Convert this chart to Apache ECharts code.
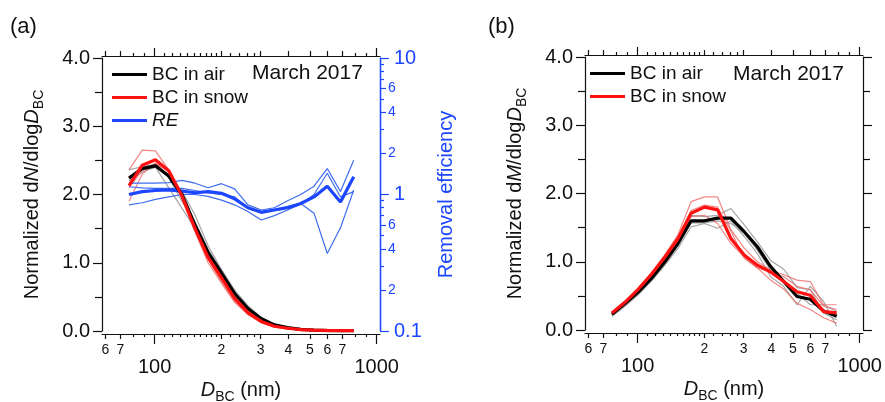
<!DOCTYPE html>
<html><head><meta charset="utf-8">
<script src="https://cdn.jsdelivr.net/npm/echarts@6/dist/echarts.min.js"></script>
<style>html,body{margin:0;padding:0;background:#fff}#c{width:885px;height:402px}</style>
</head><body><div id="c"></div>
<script>
// ---------------- data ----------------
const diameters = [76.6, 87.9, 100.8, 115.6, 132.6, 152, 174, 200, 229, 263, 302, 346, 397, 455, 522, 599, 687, 788];

// (a) number size distributions
const numAirMean  = [2.24, 2.38, 2.42, 2.27, 2.0, 1.55, 1.15, 0.85, 0.55, 0.33, 0.18, 0.09, 0.05, 0.025, 0.012, 0.006, 0.003, 0.002];
const numSnowMean = [2.13, 2.43, 2.51, 2.35, 1.98, 1.5, 1.08, 0.78, 0.48, 0.27, 0.14, 0.07, 0.04, 0.02, 0.012, 0.008, 0.006, 0.005];
const numAir1  = [2.36, 2.41, 2.41, 2.30, 2.05, 1.7, 1.25, 0.9, 0.6, 0.37, 0.2, 0.1, 0.05, 0.025, 0.012, 0.006, 0.003, 0.002];
const numAir2  = [2.20, 2.33, 2.4, 2.1, 1.8, 1.5, 1.15, 0.85, 0.55, 0.34, 0.19, 0.09, 0.05, 0.02, 0.01, 0.005, 0.003, 0.002];
const numAir3  = [2.25, 2.4, 2.45, 2.25, 1.9, 1.6, 1.2, 0.88, 0.57, 0.35, 0.18, 0.09, 0.045, 0.02, 0.01, 0.005, 0.003, 0.002];
const numSnow1 = [2.36, 2.65, 2.64, 2.36, 2.0, 1.5, 1.05, 0.72, 0.44, 0.25, 0.13, 0.06, 0.03, 0.015, 0.01, 0.007, 0.005, 0.005];
const numSnow2 = [1.9, 2.3, 2.46, 2.33, 1.98, 1.55, 1.12, 0.8, 0.5, 0.28, 0.15, 0.075, 0.04, 0.02, 0.012, 0.008, 0.006, 0.005];
const numSnow3 = [2.1, 2.35, 2.45, 2.35, 1.95, 1.45, 1.0, 0.7, 0.42, 0.24, 0.12, 0.06, 0.03, 0.015, 0.01, 0.007, 0.005, 0.005];

// (a) removal efficiency
const reMean = [1.0, 1.05, 1.07, 1.08, 1.06, 1.03, 1.05, 1.02, 0.93, 0.80, 0.74, 0.77, 0.80, 0.86, 0.96, 1.15, 0.88, 1.35];
const re1    = [1.21, 1.21, 1.21, 1.22, 1.27, 1.21, 1.12, 1.2, 1.1, 0.84, 0.77, 0.8, 0.9, 1.0, 1.15, 1.55, 1.05, 1.78];
const re2    = [1.14, 1.12, 1.11, 1.11, 1.11, 1.07, 1.03, 1.0, 0.96, 0.8, 0.75, 0.78, 0.82, 0.86, 0.73, 0.37, 0.57, 1.08];
const re3    = [0.84, 0.87, 0.92, 0.96, 1.0, 1.0, 0.97, 0.91, 0.84, 0.75, 0.65, 0.7, 0.77, 0.85, 1.0, 1.43, 0.96, 1.05];

// (b) mass size distributions
const massAirMean  = [0.23, 0.39, 0.56, 0.76, 1.0, 1.27, 1.6, 1.6, 1.64, 1.64, 1.44, 1.22, 0.93, 0.71, 0.49, 0.45, 0.28, 0.2];
const massSnowMean = [0.25, 0.41, 0.6, 0.82, 1.07, 1.34, 1.71, 1.8, 1.76, 1.34, 1.1, 0.95, 0.85, 0.71, 0.56, 0.51, 0.27, 0.25];
const massAir1  = [0.21, 0.36, 0.53, 0.74, 0.97, 1.25, 1.68, 1.66, 1.68, 1.78, 1.54, 1.29, 1.02, 0.89, 0.62, 0.59, 0.25, 0.15];
const massAir2  = [0.2, 0.35, 0.52, 0.72, 0.95, 1.2, 1.51, 1.56, 1.49, 1.6, 1.37, 1.12, 0.78, 0.64, 0.37, 0.64, 0.42, 0.05];
const massAir3  = [0.22, 0.37, 0.55, 0.75, 0.98, 1.24, 1.57, 1.57, 1.6, 1.56, 1.42, 1.17, 0.88, 0.73, 0.54, 0.37, 0.37, 0.27];
const massSnow1 = [0.26, 0.43, 0.62, 0.84, 1.1, 1.4, 1.88, 1.95, 1.95, 1.47, 1.2, 1.0, 0.88, 0.81, 0.73, 0.71, 0.37, 0.37];
const massSnow2 = [0.24, 0.42, 0.61, 0.83, 1.08, 1.36, 1.75, 1.83, 1.8, 1.45, 1.05, 0.91, 0.73, 0.6, 0.39, 0.3, 0.18, 0.1];
const massSnow3 = [0.24, 0.4, 0.58, 0.8, 1.04, 1.3, 1.66, 1.68, 1.56, 1.27, 1.07, 0.91, 0.85, 0.78, 0.64, 0.59, 0.35, 0.3];

// tick positions / labels
const xMajorTicks   = [100, 1000];
const xLabeledMinor = [60, 70, 200, 300, 400, 500, 600, 700];
const xPlainMinor   = [80, 90, 110, 120, 130, 140, 150, 160, 170, 180, 190, 220, 240, 260, 280, 800, 900];
const reMajorTicks  = [0.1, 1, 10];
const reLabeledMinor = [0.2, 0.4, 0.6, 2, 4, 6];
const rePlainMinor  = [0.3, 0.5, 0.7, 0.8, 0.9, 3, 5, 7, 8, 9];
const legendA = ['BC in air', 'BC in snow', 'RE'];
const legendB = ['BC in air', 'BC in snow'];

// ---------------- style ----------------
const FONT = '"Liberation Sans", Arial, Helvetica, sans-serif';
const INK = '#111111';
const BLUE = '#1c46ff';
const BLUE_THIN = '#3d6cf0';
const RED = '#ff1111';
const RED_THIN = 'rgba(238,95,95,0.75)';
const GRAY_THIN = '#a5a5a5';
const X_MIN = 57.9, X_MAX = 1035;

function mantissa(v) {
  const e = Math.floor(Math.log10(v) + 1e-9);
  return String(Math.round(v / Math.pow(10, e)));
}
const lineSt = (c) => ({ color: c, width: 1.2 });
const nameRich = {
  i: { fontStyle: 'italic', fontSize: 20, fontFamily: FONT, color: INK, lineHeight: 28 },
  sub: { fontSize: 14, fontFamily: FONT, color: INK, verticalAlign: 'bottom', lineHeight: 16 }
};

function xAxes(grid) {
  const base = {
    gridIndex: grid, type: 'log', logBase: 10, min: X_MIN, max: X_MAX,
    splitLine: { show: false },
    axisLine: { show: false, onZero: false },
    axisLabel: { show: false },
    axisTick: { show: false }
  };
  const mk = (pos, off, ticks, len, showLine) => Object.assign({}, base, {
    position: pos, offset: off,
    axisLine: { show: showLine, onZero: false, lineStyle: lineSt(INK) },
    axisTick: { show: true, customValues: ticks, length: len, lineStyle: lineSt(INK) }
  });
  const b0 = mk('bottom', 3, xMajorTicks, 10, true);
  b0.axisLabel = { show: true, customValues: xMajorTicks, fontSize: 20, margin: 23, color: INK, fontFamily: FONT, formatter: v => String(Math.round(v)) };
  b0.name = '{i|D}{sub|BC} (nm)';
  b0.nameLocation = 'middle';
  b0.nameGap = 42;
  b0.nameMoveOverlap = false;
  b0.nameTextStyle = { fontSize: 20, fontFamily: FONT, color: INK, lineHeight: 28, rich: nameRich };
  const b1 = mk('bottom', 3, xLabeledMinor, 5, false);
  b1.axisLabel = { show: true, customValues: xLabeledMinor, fontSize: 14, margin: 9, color: INK, fontFamily: FONT, formatter: mantissa };
  const b2 = mk('bottom', 3, xPlainMinor, 3, false);
  const t0 = mk('top', 2, xMajorTicks, 8, true);
  const t1 = mk('top', 2, xLabeledMinor, 5, false);
  const t2 = mk('top', 2, xPlainMinor, 3, false);
  return [b0, b1, b2, t0, t1, t2];
}

function valueAxis(grid, pos, withLabels, name) {
  const ax = {
    gridIndex: grid, type: 'value', min: 0, max: 4, interval: 1, position: pos,
    splitLine: { show: false },
    axisLine: { show: true, onZero: false, lineStyle: lineSt(INK) },
    axisTick: { show: true, length: 9, lineStyle: lineSt(INK) },
    minorTick: { show: true, splitNumber: 2, length: 7, lineStyle: lineSt(INK) },
    axisLabel: { show: withLabels, fontSize: 20, margin: 12, color: INK, fontFamily: FONT, formatter: v => v.toFixed(1) }
  };
  if (name) {
    ax.name = name;
    ax.nameLocation = 'middle';
    ax.nameRotate = 90;
    ax.nameGap = 56;
    ax.nameMoveOverlap = false;
    ax.nameTextStyle = { fontSize: 20, fontFamily: FONT, color: INK, lineHeight: 28, rich: nameRich };
  }
  return ax;
}

function reAxis(ticks, len, labels, fs, margin) {
  return {
    gridIndex: 0, type: 'log', logBase: 10, min: 0.1, max: 10, position: 'right',
    splitLine: { show: false },
    axisLine: { show: true, onZero: false, lineStyle: lineSt(BLUE) },
    axisTick: { show: true, customValues: ticks, length: len, lineStyle: lineSt(BLUE) },
    axisLabel: labels ? { show: true, customValues: ticks, fontSize: fs, margin: margin, color: BLUE, fontFamily: FONT, formatter: labels } : { show: false }
  };
}

const yAxes = [
  valueAxis(0, 'left', true, 'Normalized d{i|N}/dlog{i|D}{sub|BC}'),
  Object.assign(reAxis(reMajorTicks, 9, v => String(v), 20, 14), {
    name: 'Removal efficiency', nameLocation: 'middle', nameRotate: 90, nameGap: 54, nameMoveOverlap: false,
    nameTextStyle: { fontSize: 20, fontFamily: FONT, color: BLUE, lineHeight: 24 }
  }),
  reAxis(reLabeledMinor, 6, mantissa, 14, 8),
  reAxis(rePlainMinor, 4, null),
  valueAxis(1, 'left', true, 'Normalized d{i|M}/dlog{i|D}{sub|BC}'),
  valueAxis(1, 'right', false, null)
];

const pts = (vals) => diameters.map((d, i) => [d, vals[i]]);
function line(name, vals, xi, yi, color, width, silent) {
  return {
    type: 'line', name: name, data: pts(vals), xAxisIndex: xi, yAxisIndex: yi,
    color: color, showSymbol: false, symbol: 'none', silent: !!silent, animation: false,
    lineStyle: { color: color, width: width }
  };
}

const series = [
  line('a-air-1', numAir1, 0, 0, GRAY_THIN, 1.2, true),
  line('a-air-2', numAir2, 0, 0, GRAY_THIN, 1.2, true),
  line('a-air-3', numAir3, 0, 0, GRAY_THIN, 1.2, true),
  line('a-snow-1', numSnow1, 0, 0, RED_THIN, 1.2, true),
  line('a-snow-2', numSnow2, 0, 0, RED_THIN, 1.2, true),
  line('a-snow-3', numSnow3, 0, 0, RED_THIN, 1.2, true),
  line('re-1', re1, 0, 1, BLUE_THIN, 1.2, true),
  line('re-2', re2, 0, 1, BLUE_THIN, 1.2, true),
  line('re-3', re3, 0, 1, BLUE_THIN, 1.2, true),
  line('RE', reMean, 0, 1, BLUE, 3.2),
  line('BC in air', numAirMean, 0, 0, '#000000', 3.2),
  line('BC in snow', numSnowMean, 0, 0, RED, 3.2),
  line('b-air-1', massAir1, 6, 4, GRAY_THIN, 1.2, true),
  line('b-air-2', massAir2, 6, 4, GRAY_THIN, 1.2, true),
  line('b-air-3', massAir3, 6, 4, GRAY_THIN, 1.2, true),
  line('b-snow-1', massSnow1, 6, 4, RED_THIN, 1.2, true),
  line('b-snow-2', massSnow2, 6, 4, RED_THIN, 1.2, true),
  line('b-snow-3', massSnow3, 6, 4, RED_THIN, 1.2, true),
  line('BC in air', massAirMean, 6, 4, '#000000', 3.2),
  line('BC in snow', massSnowMean, 6, 4, RED, 3.2)
];

const legendBase = {
  orient: 'vertical', icon: 'rect', itemWidth: 35, itemHeight: 3, itemGap: 2,
  padding: 0, selectedMode: false,
  textStyle: { fontSize: 19, fontFamily: FONT, color: INK, lineHeight: 21,
    rich: { i: { fontStyle: 'italic', fontSize: 19, fontFamily: FONT, color: INK, lineHeight: 21 } } },
  formatter: (n) => n === 'RE' ? '{i|RE}' : n
};

const option = {
  backgroundColor: '#ffffff',
  animation: false,
  grid: [
    { left: 102, top: 58, width: 278, height: 273, containLabel: false, outerBoundsMode: 'none' },
    { left: 585, top: 57, width: 278, height: 273, containLabel: false, outerBoundsMode: 'none' }
  ],
  xAxis: xAxes(0).concat(xAxes(1)),
  yAxis: yAxes,
  legend: [
    Object.assign({}, legendBase, { data: legendA, left: 112, top: 64 }),
    Object.assign({}, legendBase, { data: legendB, left: 590, top: 63 })
  ],
  graphic: [
    { type: 'text', left: 10, top: 16, style: { text: '(a)', fontSize: 22, fontFamily: FONT, fill: INK } },
    { type: 'text', left: 488, top: 16, style: { text: '(b)', fontSize: 22, fontFamily: FONT, fill: INK } },
    { type: 'text', left: 252, top: 63, style: { text: 'March 2017', fontSize: 21, fontFamily: FONT, fill: INK } },
    { type: 'text', left: 733, top: 64, style: { text: 'March 2017', fontSize: 21, fontFamily: FONT, fill: INK } }
  ],
  series: series
};

const chart = echarts.init(document.getElementById('c'), null, { renderer: 'canvas' });
chart.setOption(option);
</script>
</body></html>
